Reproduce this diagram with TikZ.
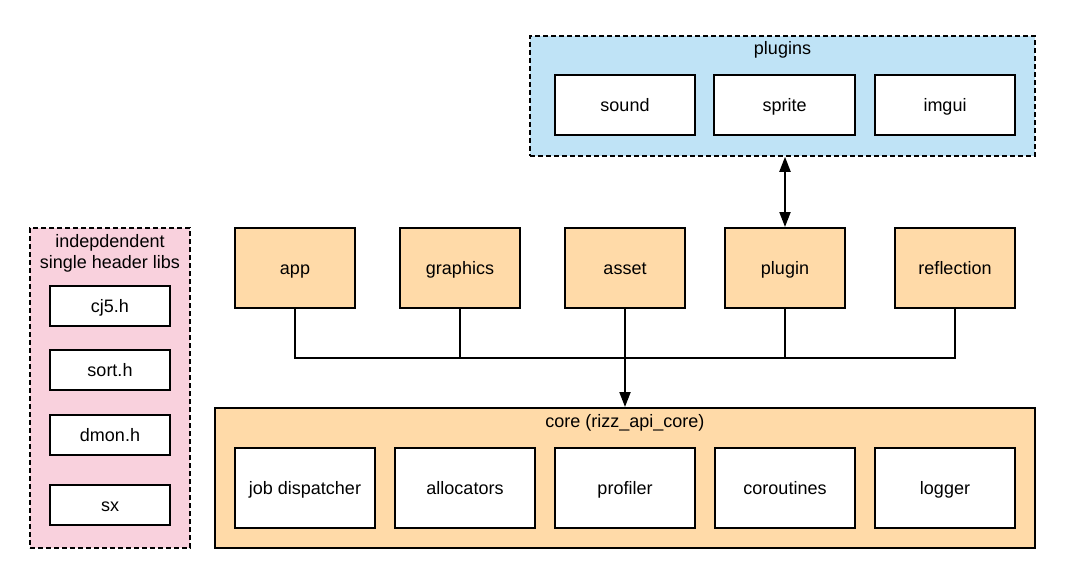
\documentclass[tikz,border=0pt]{standalone}
\usepackage{fontspec}
\setmainfont{Liberation Sans}
\usetikzlibrary{arrows.meta}

\definecolor{pluginblue}{RGB}{191,227,246}
\definecolor{corebeige}{RGB}{255,218,168}
\definecolor{libpink}{RGB}{249,209,221}

\tikzset{
    box/.style={draw=black, line width=2pt, fill=white, inner sep=0pt,
        font=\fontsize{18}{21}\selectfont, text height=15pt, text depth=2pt},
    modbox/.style={box, fill=corebeige, minimum width=120pt, minimum height=80pt},
    groupbox/.style={draw=black, line width=1.6pt, dashed, dash pattern=on 5pt off 3pt, inner sep=0pt},
    grouptitle/.style={font=\fontsize{18}{21}\selectfont, align=center, inner sep=0pt},
    link/.style={line width=2pt},
    tip/.style={-{Triangle[length=15pt, width=11pt]}}
}

\begin{document}
\begin{tikzpicture}[x=1pt, y=-1pt]
        \useasboundingbox (0,0) rectangle (1065,578);

        % Plugins group
        \node[groupbox, fill=pluginblue, minimum width=505pt, minimum height=120pt] (plugins) at (782.5,96) {};
        \node[grouptitle] (pluginstitle) at (782.5,50) {plugins};
        \node[box, minimum width=140pt, minimum height=60pt] (sound) at (625,105) {sound};
        \node[box, minimum width=141pt, minimum height=60pt] (sprite) at (784.5,105) {sprite};
        \node[box, minimum width=140pt, minimum height=60pt] (imgui) at (945,105) {imgui};

        % Single header libs group
        \node[groupbox, fill=libpink, minimum width=160pt, minimum height=320pt] (libs) at (110,388) {};
        \node[grouptitle] (libstitle) at (110,253) {indepdendent\\single header libs};
        \node[box, minimum width=120pt, minimum height=40pt] (cjfive) at (110,306) {cj5.h};
        \node[box, minimum width=120pt, minimum height=40pt] (sorth) at (110,370) {sort.h};
        \node[box, minimum width=120pt, minimum height=40pt] (dmonh) at (110,435) {dmon.h};
        \node[box, minimum width=120pt, minimum height=40pt] (sx) at (110,505) {sx};

        % Modules
        \node[modbox] (app) at (295,268) {app};
        \node[modbox] (graphics) at (460,268) {graphics};
        \node[modbox] (asset) at (625,268) {asset};
        \node[modbox] (plugin) at (785,268) {plugin};
        \node[modbox] (reflection) at (955,268) {reflection};

        % Core
        \node[box, fill=corebeige, minimum width=820pt, minimum height=140pt] (core) at (625,478) {};
        \node[grouptitle] (coretitle) at (625,423) {core (rizz\_api\_core)};
        \node[box, minimum width=140pt, minimum height=80pt] (jobs) at (305,488) {job dispatcher};
        \node[box, minimum width=140pt, minimum height=80pt] (alloc) at (465,488) {allocators};
        \node[box, minimum width=140pt, minimum height=80pt] (profiler) at (625,488) {profiler};
        \node[box, minimum width=140pt, minimum height=80pt] (coro) at (785,488) {coroutines};
        \node[box, minimum width=140pt, minimum height=80pt] (logger) at (945,488) {logger};

        % Connectors
        \coordinate (busleft) at (295,358);
        \coordinate (busright) at (955,358);
        \draw[link] (app.south) |- (busleft) -- (busright) -| (reflection.south);
        \draw[link] (graphics.south) -- (graphics.south |- busleft);
        \draw[link] (plugin.south) -- (plugin.south |- busleft);
        \draw[link, tip] (asset.south) -- (core.north);
        \draw[link, {Triangle[length=15pt, width=11pt]}-{Triangle[length=15pt, width=11pt]}] (plugins.south -| plugin.north) -- (plugin.north);

    \end{tikzpicture}
\end{document}
